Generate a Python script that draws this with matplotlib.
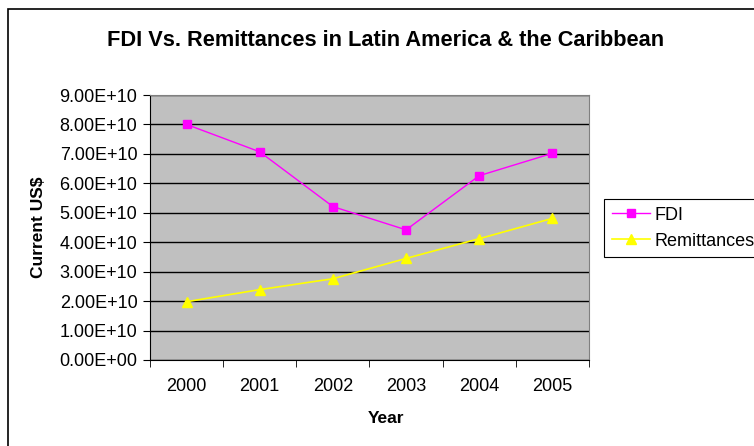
import matplotlib
matplotlib.use("Agg")
import matplotlib.pyplot as plt
from matplotlib.patches import Rectangle
from matplotlib.ticker import FixedLocator, FuncFormatter

plt.rcParams['font.family'] = ['Liberation Sans', 'DejaVu Sans']

years = ['2000', '2001', '2002', '2003', '2004', '2005']
fdi = [8.00e10, 7.07e10, 5.21e10, 4.42e10, 6.26e10, 7.02e10]
remittances = [1.98e10, 2.39e10, 2.76e10, 3.45e10, 4.12e10, 4.81e10]
yticks = [i * 1e10 for i in range(10)]

W, H = 754, 446
fig = plt.figure(figsize=(W / 100, H / 100), dpi=100)

# outer chart border (runs off right and bottom)
fig.patches.append(Rectangle((8 / W, -0.05), 1.0, 1 - 9 / H + 0.05,
                             transform=fig.transFigure, fill=False,
                             edgecolor='black', linewidth=1.2))

ax = fig.add_axes([150 / W, (H - 360) / H, 439 / W, 265 / H])
ax.set_facecolor('#C0C0C0')

x = list(range(len(years)))
ax.plot(x, fdi, color='#FF00FF', marker='s', markersize=6, linewidth=1,
        label='FDI', zorder=3)
ax.plot(x, remittances, color='#FFFF00', marker='^', markersize=7,
        linewidth=1.2, label='Remittances', zorder=3)

ax.set_xlim(-0.5, len(years) - 0.5)
ax.set_ylim(0, 9e10)
ax.set_yticks(yticks)
ax.yaxis.set_major_formatter(FuncFormatter(lambda v, p: '%.2E' % v))
ax.grid(axis='y', color='black', linewidth=1)
ax.set_axisbelow(True)

ax.set_xticks(x)
ax.set_xticklabels(years)
ax.tick_params(axis='x', which='major', length=0, pad=13, labelsize=13)
ax.xaxis.set_minor_locator(FixedLocator([i - 0.5 for i in range(len(years) + 1)]))
ax.tick_params(axis='x', which='minor', length=5, direction='out', color='black')
ax.tick_params(axis='y', length=5, direction='out', labelsize=13, pad=4)

for s in ['top', 'right']:
    ax.spines[s].set_color('#808080')
for s in ['left', 'bottom']:
    ax.spines[s].set_color('black')

ax.set_xlabel('Year', fontsize=12.5, fontweight='bold')
ax.set_ylabel('Current US$', fontsize=12.5, fontweight='bold')
ax.xaxis.set_label_coords((386 - 150) / 439, (360 - 411) / 265)
ax.yaxis.set_label_coords((46 - 150) / 439, 0.5)

fig.text(386 / W, 1 - 40 / H, 'FDI Vs. Remittances in Latin America & the Caribbean',
         ha='center', va='center', fontsize=15.7, fontweight='bold')

leg = fig.legend(loc='upper left', bbox_to_anchor=(604 / W, 1 - 199 / H),
                 fancybox=False, framealpha=1, edgecolor='black',
                 fontsize=13, handlelength=2.1, borderpad=0.42,
                 labelspacing=0.5, handletextpad=0.28, borderaxespad=0)
leg.get_frame().set_linewidth(0.8)

fig.savefig('out.png', dpi=100)
